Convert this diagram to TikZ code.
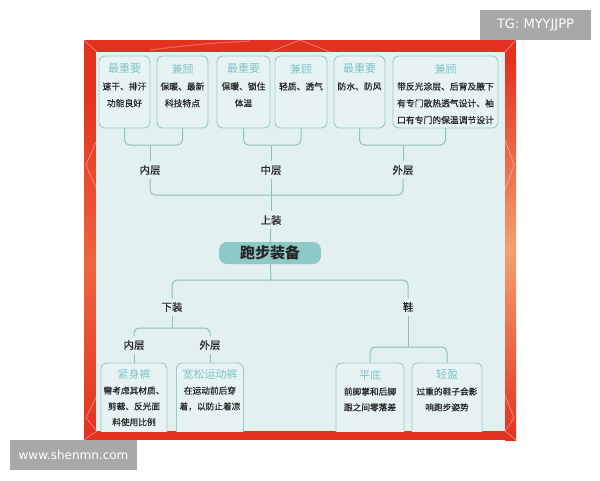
\documentclass[tikz,border=0pt]{standalone}
\usepackage{fontspec}
\setmainfont{Noto Sans CJK SC}
\newfontfamily\medfont{Noto Sans CJK SC}[FakeBold=0.5]
\newfontfamily\wmfont{DejaVu Sans}
\definecolor{redf}{HTML}{E2311F}
\definecolor{orangeL}{HTML}{F0643F}
\definecolor{orangeR}{HTML}{F5A072}
\definecolor{panelc}{HTML}{E3F0F0}
\definecolor{boxfill}{HTML}{E7F3F3}
\definecolor{boxline}{HTML}{9ACBCB}
\definecolor{connc}{HTML}{8EBFBF}
\definecolor{titlec}{HTML}{7FC6C4}
\definecolor{textc}{HTML}{262626}
\definecolor{mainfill}{HTML}{8DC9C7}
\definecolor{wmgray}{HTML}{A8A8A8}
\tikzset{
  cbox/.style={draw=boxline, fill=boxfill, rounded corners=6pt, line width=0.9pt, inner sep=0pt},
  conn/.style={draw=connc, line width=1pt, rounded corners=5pt},
  lab/.style={font=\medfont\fontsize{10.5}{12}\selectfont, text=textc, inner sep=3.5pt},
  toptxt/.style={align=center, text=textc, font=\medfont\fontsize{8.8}{16.8}\selectfont, anchor=north, inner sep=0pt},
  bottxt/.style={align=center, text=textc, font=\medfont\fontsize{8.7}{15.8}\selectfont, anchor=north, inner sep=0pt},
  wm/.style={fill=wmgray, text=white, inner sep=0pt, minimum height=30pt},
  deco/.style={draw=white, opacity=0.45, line width=0.6pt}
}
\newcommand\ttl[1]{{\color{titlec}\normalfont\fontsize{11}{16}\selectfont #1}}
\begin{document}
\begin{tikzpicture}[x=1pt,y=-1pt]
\useasboundingbox (0,0) rectangle (600,480);
% frame
\fill[redf] (84,40) rectangle (516,440);
\shade[top color=redf, bottom color=redf, middle color=orangeL] (84,90) rectangle (96,440);
\shade[top color=redf, bottom color=redf, middle color=orangeR] (505,60) rectangle (516,440);
\draw[deco] (84,40) -- (97,52) (516,40) -- (505,52) (84,440) -- (97,431) (516,440) -- (505,431);
\draw[deco] (270,52) -- (300,40) -- (330,52);
\draw[deco] (97,140) -- (86,165) -- (97,190);
\draw[deco] (97,395) -- (86,418) -- (97,431);
\draw[deco] (505,140) -- (514,165) -- (505,190);
\draw[deco] (505,395) -- (514,418) -- (505,431);
\draw[draw=white, opacity=0.25, line width=1.2pt] (150,50) .. controls (200,44) .. (250,41);
\fill[panelc] (96,52) rectangle (505,431);
% top boxes
\node[cbox, minimum width=51pt, minimum height=72pt] (b1) at (124.5,92) {};
\node[cbox, minimum width=51pt, minimum height=72pt] (b2) at (182.5,92) {};
\node[cbox, minimum width=53pt, minimum height=72pt] (b3) at (243.5,92) {};
\node[cbox, minimum width=52pt, minimum height=72pt] (b4) at (301,92) {};
\node[cbox, minimum width=51pt, minimum height=72pt] (b5) at (359.5,92) {};
\node[cbox, minimum width=105pt, minimum height=72pt] (b6) at (445.5,92) {};
\node[toptxt] (t1) at ([yshift=-8pt]b1.north) {\ttl{最重要}\\速干、排汗\\功能良好};
\node[toptxt] (t2) at ([yshift=-8pt]b2.north) {\ttl{兼顾}\\保暖、最新\\科技特点};
\node[toptxt] (t3) at ([yshift=-8pt]b3.north) {\ttl{最重要}\\保暖、锁住\\体温};
\node[toptxt] (t4) at ([yshift=-8pt]b4.north) {\ttl{兼顾}\\轻质、透气};
\node[toptxt] (t5) at ([yshift=-8pt]b5.north) {\ttl{最重要}\\防水、防风};
\node[toptxt] (t6) at ([yshift=-8pt]b6.north) {\ttl{兼顾}\\带反光涂层、后背及腋下\\有专门散热透气设计、袖\\口有专门的保温调节设计};
% top labels
\coordinate (j1) at (150,145);
\coordinate (j2) at (271,145);
\coordinate (j3) at (403,145);
\node[lab] (nei) at (150,170) {内层};
\node[lab] (zhong) at (271,170) {中层};
\node[lab] (wai) at (403,170) {外层};
\coordinate (hh) at (271,195);
\node[lab] (shang) at (271,220) {上装};
\node[fill=mainfill, rounded corners=8pt, minimum width=102pt, minimum height=22pt, inner sep=0pt, text=textc, font=\fontsize{15}{16}\selectfont\bfseries] (main) at (270,253) {跑步装备};
\draw[conn] (b1.south) |- (j1) -| (b2.south);
\draw[conn] (b3.south) |- (j2) -| (b4.south);
\draw[conn] (b5.south) |- (j3) -| (b6.south);
\draw[conn] (j1) -- (nei);
\draw[conn] (j2) -- (zhong);
\draw[conn] (j3) -- (wai);
\draw[conn] (nei) |- (hh) -| (wai);
\draw[conn] (zhong) -- (shang);
\draw[conn] (shang) -- (main);
% lower part
\coordinate (h2) at (271,280);
\node[lab] (xia) at (172,307) {下装};
\node[lab] (xie) at (408,307) {鞋};
\coordinate (h3) at (172,328);
\coordinate (h4) at (408,347);
\node[lab] (nei2) at (134,345) {内层};
\node[lab] (wai2) at (210,345) {外层};
\begin{scope}
\clip (96,52) rectangle (505,431);
\node[cbox, minimum width=66pt, minimum height=87pt] (k1) at (134,406.5) {};
\node[cbox, minimum width=67pt, minimum height=87pt] (k2) at (210,406.5) {};
\node[cbox, minimum width=68pt, minimum height=87pt] (k3) at (370,406.5) {};
\node[cbox, minimum width=70pt, minimum height=87pt] (k4) at (447,406.5) {};
\node[bottxt] (s1) at ([yshift=-6pt]k1.north) {\ttl{紧身裤}\\需考虑其材质、\\剪裁、反光面\\料使用比例};
\node[bottxt] (s2) at ([yshift=-6pt]k2.north) {\ttl{宽松运动裤}\\在运动前后穿\\着，以防止着凉};
\node[bottxt] (s3) at ([yshift=-7pt]k3.north) {\ttl{平底}\\前脚掌和后脚\\跟之间零落差};
\node[bottxt] (s4) at ([yshift=-7pt]k4.north) {\ttl{轻盈}\\过重的鞋子会影\\响跑步姿势};
\end{scope}
\draw[conn] (main) -- (h2);
\draw[conn] (xia) |- (h2) -| (xie);
\draw[conn] (xia) -- (h3);
\draw[conn] (nei2) |- (h3) -| (wai2);
\draw[conn] (nei2) -- (k1.north);
\draw[conn] (wai2) -- (k2.north);
\draw[conn] (xie) -- (h4);
\draw[conn] (k3.north) |- (h4) -| (k4.north);
% watermarks
\node[wm, minimum width=111pt, font=\wmfont\fontsize{13}{15}\selectfont] (tg) at (535.5,25) {TG: MYYJJPP};
\node[wm, minimum width=127pt, font=\wmfont\fontsize{12}{14}\selectfont] (www) at (73.5,455) {www.shenmn.com};
\end{tikzpicture}
\end{document}
